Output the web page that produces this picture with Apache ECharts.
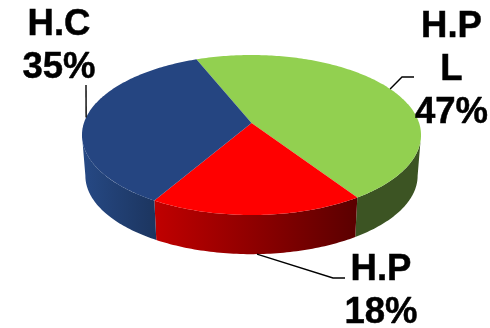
<!DOCTYPE html>
<html>
<head>
<meta charset="utf-8">
<style>
  html, body { margin: 0; padding: 0; background: #fff; }
  #chart { width: 490px; height: 328px; }
</style>
<script src="https://cdn.jsdelivr.net/npm/echarts@6/dist/echarts.min.js"></script>
</head>
<body>
<div id="chart"></div>
<script>
const categories = ['H.P L', 'H.P', 'H.C']
const labelLines = [['H.P', 'L'], ['H.P'], ['H.C']]
const percents = [46.7, 17.7, 35.4]

// pie drawn as a tilted disc, k is the perspective strength
const startAngle = -22
const disc = { cx: 251.5, cy: 123, a: 167.6, b: 78.2, k: 0.15, drop: 41, bottomScale: 0.98 }
const sideFrom = 98.6
const sideTo = 261.4

const topColors = ['#92d050', '#ff0000', '#254581']
const sideColors = [
  ['#3c5423', '#3c5423'],
  ['#c00000', '#5a0000'],
  ['#264985', '#1c355f']
]
const leaderRim = ['top', 'bottom', 'top']
const leaderBends = [
  [[402, 77], [414, 77]],
  [[333, 278], [345, 278]],
  [[86, 85]]
]
const labelPos = [[451.5, 5], [381, 248], [59, 3]]

const total = percents.reduce((s, v) => s + v, 0)

function rimPoint(deg, lower) {
  const t = deg * Math.PI / 180
  const w = 1 + disc.k * Math.cos(t)
  const s = lower ? disc.bottomScale : 1
  return [
    disc.cx + s * disc.a * Math.sin(t) / w,
    disc.cy + (lower ? disc.drop : 0) - s * disc.b * Math.cos(t) / w
  ]
}

function arc(from, to, lower) {
  const pts = []
  const n = Math.max(2, Math.ceil(Math.abs(to - from)))
  for (let i = 0; i <= n; i++) pts.push(rimPoint(from + (to - from) * i / n, lower))
  return pts
}

function sliceStart(idx) {
  let sum = 0
  for (let i = 0; i < idx; i++) sum += percents[i]
  return startAngle + sum / total * 360
}

function renderSlice(params, api) {
  const i = params.dataIndex
  const from = sliceStart(i)
  const to = from + api.value(0) / total * 360
  const mid = (from + to) / 2
  const children = []

  const a = Math.max(from, sideFrom)
  const b = Math.min(to, sideTo)
  if (b > a) {
    children.push({
      type: 'polygon',
      shape: { points: arc(a, b, false).concat(arc(b, a, true)) },
      style: {
        fill: new echarts.graphic.LinearGradient(0, 0, 1, 0, [
          { offset: 0, color: sideColors[i][0] },
          { offset: 1, color: sideColors[i][1] }
        ])
      }
    })
  }

  children.push({
    type: 'polygon',
    z2: 2,
    shape: { points: [[disc.cx, disc.cy]].concat(arc(from, to, false)) },
    style: { fill: topColors[i] }
  })

  children.push({
    type: 'polyline',
    z2: 3,
    shape: { points: [rimPoint(mid, leaderRim[i] === 'bottom')].concat(leaderBends[i]) },
    style: { fill: null, stroke: '#000', lineWidth: 1.4 }
  })

  children.push({
    type: 'text',
    z2: 4,
    x: labelPos[i][0],
    y: labelPos[i][1],
    style: {
      text: labelLines[i].concat(Math.round(api.value(0)) + '%').join('\n'),
      align: 'center',
      verticalAlign: 'top',
      fontFamily: 'Liberation Sans',
      fontWeight: 'bold',
      fontSize: 36.5,
      lineHeight: 43,
      fill: '#000',
      stroke: '#000',
      lineWidth: 0.5
    }
  })

  return { type: 'group', children }
}

const chart = echarts.init(document.getElementById('chart'))
chart.setOption({
  animation: false,
  series: [{
    type: 'custom',
    coordinateSystem: 'none',
    silent: true,
    renderItem: renderSlice,
    data: percents.map((v, i) => ({ name: categories[i], value: [v] }))
  }]
})
</script>
</body>
</html>
